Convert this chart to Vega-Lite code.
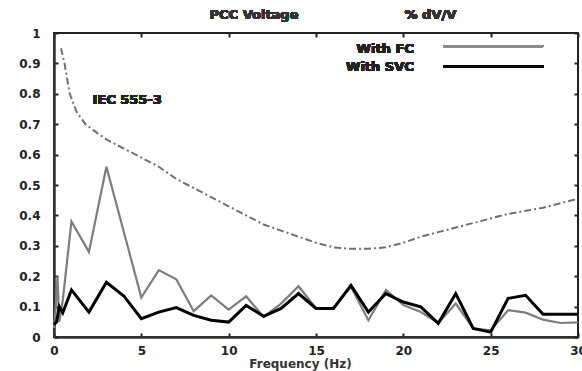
{
  "$schema": "https://vega.github.io/schema/vega-lite/v6.json",
  "width": 524,
  "height": 304,
  "autosize": "none",
  "padding": {"left": 54, "top": 33, "right": 4, "bottom": 34},
  "background": "white",
  "config": {
    "view": {"stroke": "#222", "strokeWidth": 2},
    "font": "DejaVu Sans",
    "axis": {"labelFont": "DejaVu Sans", "labelFontWeight": "bold", "labelFontSize": 12, "labelColor": "#222", "titleFont": "DejaVu Sans", "titleFontWeight": "bold", "titleFontSize": 12, "titleColor": "#333", "grid": false, "domainColor": "#333", "domainWidth": 2.5, "tickColor": "#222", "tickWidth": 2}
  },
  "datasets": {
    "curves": [
      {"series": "IEC 555-3", "f": 0.4, "v": 0.95},
      {"series": "IEC 555-3", "f": 0.6, "v": 0.9},
      {"series": "IEC 555-3", "f": 0.9, "v": 0.8},
      {"series": "IEC 555-3", "f": 1.3, "v": 0.74},
      {"series": "IEC 555-3", "f": 1.8, "v": 0.7},
      {"series": "IEC 555-3", "f": 2.5, "v": 0.67},
      {"series": "IEC 555-3", "f": 3, "v": 0.65},
      {"series": "IEC 555-3", "f": 4, "v": 0.62},
      {"series": "IEC 555-3", "f": 5, "v": 0.59},
      {"series": "IEC 555-3", "f": 6, "v": 0.56},
      {"series": "IEC 555-3", "f": 7, "v": 0.52},
      {"series": "IEC 555-3", "f": 8, "v": 0.49},
      {"series": "IEC 555-3", "f": 9, "v": 0.46},
      {"series": "IEC 555-3", "f": 10, "v": 0.43},
      {"series": "IEC 555-3", "f": 11, "v": 0.4},
      {"series": "IEC 555-3", "f": 12, "v": 0.37},
      {"series": "IEC 555-3", "f": 13, "v": 0.35},
      {"series": "IEC 555-3", "f": 14, "v": 0.33},
      {"series": "IEC 555-3", "f": 15, "v": 0.31},
      {"series": "IEC 555-3", "f": 16, "v": 0.295},
      {"series": "IEC 555-3", "f": 17, "v": 0.29},
      {"series": "IEC 555-3", "f": 18, "v": 0.29},
      {"series": "IEC 555-3", "f": 19, "v": 0.295},
      {"series": "IEC 555-3", "f": 20, "v": 0.31},
      {"series": "IEC 555-3", "f": 21, "v": 0.33},
      {"series": "IEC 555-3", "f": 22, "v": 0.345},
      {"series": "IEC 555-3", "f": 23, "v": 0.36},
      {"series": "IEC 555-3", "f": 24, "v": 0.375},
      {"series": "IEC 555-3", "f": 25, "v": 0.39},
      {"series": "IEC 555-3", "f": 26, "v": 0.405},
      {"series": "IEC 555-3", "f": 27, "v": 0.415},
      {"series": "IEC 555-3", "f": 28, "v": 0.425},
      {"series": "IEC 555-3", "f": 29, "v": 0.44},
      {"series": "IEC 555-3", "f": 30, "v": 0.455},

      {"series": "With FC", "f": 0, "v": 0.03},
      {"series": "With FC", "f": 0.1, "v": 0.1},
      {"series": "With FC", "f": 0.2, "v": 0.2},
      {"series": "With FC", "f": 0.3, "v": 0.05},
      {"series": "With FC", "f": 0.5, "v": 0.12},
      {"series": "With FC", "f": 1, "v": 0.38},
      {"series": "With FC", "f": 2, "v": 0.28},
      {"series": "With FC", "f": 3, "v": 0.56},
      {"series": "With FC", "f": 5, "v": 0.13},
      {"series": "With FC", "f": 6, "v": 0.22},
      {"series": "With FC", "f": 7, "v": 0.19},
      {"series": "With FC", "f": 8, "v": 0.085},
      {"series": "With FC", "f": 9, "v": 0.137},
      {"series": "With FC", "f": 10, "v": 0.09},
      {"series": "With FC", "f": 11, "v": 0.134},
      {"series": "With FC", "f": 12, "v": 0.066},
      {"series": "With FC", "f": 13, "v": 0.11},
      {"series": "With FC", "f": 14, "v": 0.167},
      {"series": "With FC", "f": 15, "v": 0.095},
      {"series": "With FC", "f": 16, "v": 0.095},
      {"series": "With FC", "f": 17, "v": 0.165},
      {"series": "With FC", "f": 18, "v": 0.055},
      {"series": "With FC", "f": 19, "v": 0.155},
      {"series": "With FC", "f": 20, "v": 0.105},
      {"series": "With FC", "f": 21, "v": 0.082},
      {"series": "With FC", "f": 22, "v": 0.046},
      {"series": "With FC", "f": 23, "v": 0.11},
      {"series": "With FC", "f": 24, "v": 0.028},
      {"series": "With FC", "f": 25, "v": 0.022},
      {"series": "With FC", "f": 26, "v": 0.088},
      {"series": "With FC", "f": 27, "v": 0.08},
      {"series": "With FC", "f": 28, "v": 0.057},
      {"series": "With FC", "f": 29, "v": 0.046},
      {"series": "With FC", "f": 30, "v": 0.048},

      {"series": "With SVC", "f": 0, "v": 0.04},
      {"series": "With SVC", "f": 0.15, "v": 0.05},
      {"series": "With SVC", "f": 0.3, "v": 0.1},
      {"series": "With SVC", "f": 0.5, "v": 0.08},
      {"series": "With SVC", "f": 1, "v": 0.155},
      {"series": "With SVC", "f": 2, "v": 0.082},
      {"series": "With SVC", "f": 3, "v": 0.18},
      {"series": "With SVC", "f": 4, "v": 0.135},
      {"series": "With SVC", "f": 5, "v": 0.06},
      {"series": "With SVC", "f": 6, "v": 0.082},
      {"series": "With SVC", "f": 7, "v": 0.097},
      {"series": "With SVC", "f": 8, "v": 0.071},
      {"series": "With SVC", "f": 9, "v": 0.055},
      {"series": "With SVC", "f": 10, "v": 0.049},
      {"series": "With SVC", "f": 11, "v": 0.104},
      {"series": "With SVC", "f": 12, "v": 0.068},
      {"series": "With SVC", "f": 13, "v": 0.094},
      {"series": "With SVC", "f": 14, "v": 0.143},
      {"series": "With SVC", "f": 15, "v": 0.094},
      {"series": "With SVC", "f": 16, "v": 0.094},
      {"series": "With SVC", "f": 17, "v": 0.17},
      {"series": "With SVC", "f": 18, "v": 0.082},
      {"series": "With SVC", "f": 19, "v": 0.143},
      {"series": "With SVC", "f": 20, "v": 0.115},
      {"series": "With SVC", "f": 21, "v": 0.099},
      {"series": "With SVC", "f": 22, "v": 0.045},
      {"series": "With SVC", "f": 23, "v": 0.143},
      {"series": "With SVC", "f": 24, "v": 0.028},
      {"series": "With SVC", "f": 25, "v": 0.016},
      {"series": "With SVC", "f": 26, "v": 0.127},
      {"series": "With SVC", "f": 27, "v": 0.137},
      {"series": "With SVC", "f": 28, "v": 0.075},
      {"series": "With SVC", "f": 30, "v": 0.075}
    ]
  },
  "data": {"name": "curves"},
  "resolve": {"axis": {"x": "independent", "y": "independent"}},
  "layer": [
    {
      "transform": [{"filter": "datum.series === 'IEC 555-3'"}],
      "mark": {"type": "line", "color": "#707070", "strokeWidth": 2, "strokeDash": [7, 3, 2, 3]},
      "encoding": {
        "x": {"field": "f", "type": "quantitative", "scale": {"domain": [0, 30], "nice": false}, "axis": {"orient": "bottom", "title": "Frequency (Hz)", "values": [0, 5, 10, 15, 20, 25, 30], "tickSize": -4, "labelPadding": 12, "titleX": 246, "titlePadding": 2, "labelFlush": false}},
        "y": {"field": "v", "type": "quantitative", "scale": {"domain": [0, 1], "nice": false}, "axis": {"orient": "left", "title": null, "format": ".1~f", "values": [0, 0.1, 0.2, 0.3, 0.4, 0.5, 0.6, 0.7, 0.8, 0.9, 1], "tickSize": -4, "labelPadding": 18, "labelFlush": false}}
      }
    },
    {
      "transform": [{"filter": "datum.series === 'With FC'"}],
      "mark": {"type": "line", "color": "#7d7d7d", "strokeWidth": 2.2},
      "encoding": {
        "x": {"field": "f", "type": "quantitative", "axis": {"orient": "top", "title": null, "labels": false, "values": [0, 5, 10, 15, 20, 25, 30], "tickSize": -4, "domain": false}},
        "y": {"field": "v", "type": "quantitative", "axis": {"orient": "right", "title": null, "labels": false, "values": [0, 0.1, 0.2, 0.3, 0.4, 0.5, 0.6, 0.7, 0.8, 0.9, 1], "tickSize": -4, "domain": false}}
      }
    },
    {
      "transform": [{"filter": "datum.series === 'With SVC'"}],
      "mark": {"type": "line", "color": "#000000", "strokeWidth": 3},
      "encoding": {
        "x": {"field": "f", "type": "quantitative", "axis": null},
        "y": {"field": "v", "type": "quantitative", "axis": null}
      }
    },
    {
      "mark": {"type": "rule", "color": "#8a8a8a", "strokeWidth": 1.8},
      "encoding": {"x": {"datum": 22.3, "axis": null}, "x2": {"datum": 28}, "y": {"datum": 0.956, "axis": null}}
    },
    {
      "mark": {"type": "rule", "color": "#000000", "strokeWidth": 3},
      "encoding": {"x": {"datum": 22.3, "axis": null}, "x2": {"datum": 28}, "y": {"datum": 0.89, "axis": null}}
    },
    {
      "mark": {"type": "text", "align": "right", "baseline": "middle", "font": "DejaVu Sans", "fontWeight": "bold", "fontSize": 13, "color": "#222"},
      "encoding": {"x": {"datum": 20.6, "axis": null}, "y": {"datum": 0.946, "axis": null}, "text": {"value": "With FC"}}
    },
    {
      "mark": {"type": "text", "align": "right", "baseline": "middle", "font": "DejaVu Sans", "fontWeight": "bold", "fontSize": 13, "color": "#222"},
      "encoding": {"x": {"datum": 20.6, "axis": null}, "y": {"datum": 0.887, "axis": null}, "text": {"value": "With SVC"}}
    },
    {
      "mark": {"type": "text", "align": "left", "baseline": "middle", "font": "DejaVu Sans", "fontWeight": "bold", "fontSize": 13, "color": "#222"},
      "encoding": {"x": {"datum": 2.2, "axis": null}, "y": {"datum": 0.78, "axis": null}, "text": {"value": "IEC 555-3"}}
    },
    {
      "mark": {"type": "text", "align": "center", "baseline": "middle", "font": "DejaVu Sans", "fontWeight": "bold", "fontSize": 13, "color": "#333", "clip": false},
      "encoding": {"x": {"datum": 11.45, "axis": null}, "y": {"datum": 1.058, "axis": null}, "text": {"value": "PCC Voltage"}}
    },
    {
      "mark": {"type": "text", "align": "center", "baseline": "middle", "font": "DejaVu Sans", "fontWeight": "bold", "fontSize": 13, "color": "#333", "clip": false},
      "encoding": {"x": {"datum": 21.55, "axis": null}, "y": {"datum": 1.058, "axis": null}, "text": {"value": "% dV/V"}}
    }
  ]
}
